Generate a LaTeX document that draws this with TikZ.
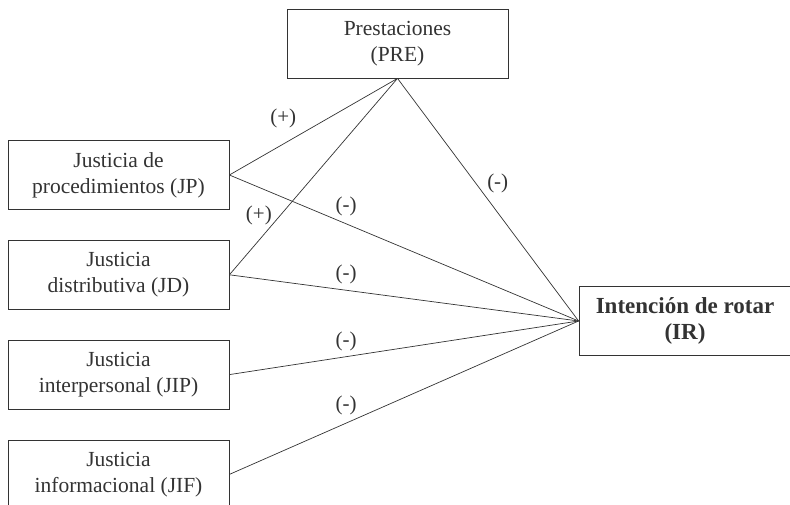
\documentclass[tikz,border=0pt]{standalone}
\usepackage{fontspec}
\setmainfont{Liberation Serif}
\usetikzlibrary{positioning}
\definecolor{Ink}{HTML}{333333}

\begin{document}
\begin{tikzpicture}
[x=1pt,y=1pt,node distance=30pt,
box/.style={draw=Ink,line width=.8pt,text=Ink,align=center,inner sep=0pt,
  minimum width=221pt,minimum height=69pt,font=\fontsize{21.5}{26}\selectfont},
link/.style={Ink,line width=.7pt},
sign/.style={text=Ink,inner sep=0pt,font=\fontsize{21}{25}\selectfont}
]
\useasboundingbox (0,0) rectangle (790,504);
%% mediator and outcome
\node[box] (PRE) at (397.5,460.5) {Prestaciones\\(PRE)};
\node[box,minimum width=212pt,font=\bfseries\fontsize{23}{26}\selectfont]
  (IR) at (685,183) {Intención de rotar\\(IR)};
%% justice dimensions
\node[box] (JP) at (118.5,329) {Justicia de\\procedimientos (JP)};
\node[box,below=of JP] (JD) {Justicia\\distributiva (JD)};
\node[box,below=of JD] (JIP) {Justicia\\interpersonal (JIP)};
\node[box,below=of JIP] (JIF) {Justicia\\informacional (JIF)};
%% paths to PRE
\draw[link] (JP.east) -- node[sign,pos=.32,shift={(0,26)}] {(+)} (PRE.south);
\draw[link] (JD.east) -- node[sign,pos=.3,shift={(-21,0)}] {(+)} (PRE.south);
%% paths to IR
\draw[link] (JP.east) -- node[sign,pos=.334,shift={(0,17)}] {(-)} (IR.west);
\draw[link] (JD.east) -- node[sign,pos=.334,shift={(0,16)}] {(-)} (IR.west);
\draw[link] (JIP.east) -- node[sign,pos=.334,shift={(0,15)}] {(-)} (IR.west);
\draw[link] (JIF.east) -- node[sign,pos=.334,shift={(0,18)}] {(-)} (IR.west);
\draw[link] (PRE.south) -- node[sign,pos=.432,shift={(22,0)}] {(-)} (IR.west);
\end{tikzpicture}
\end{document}
